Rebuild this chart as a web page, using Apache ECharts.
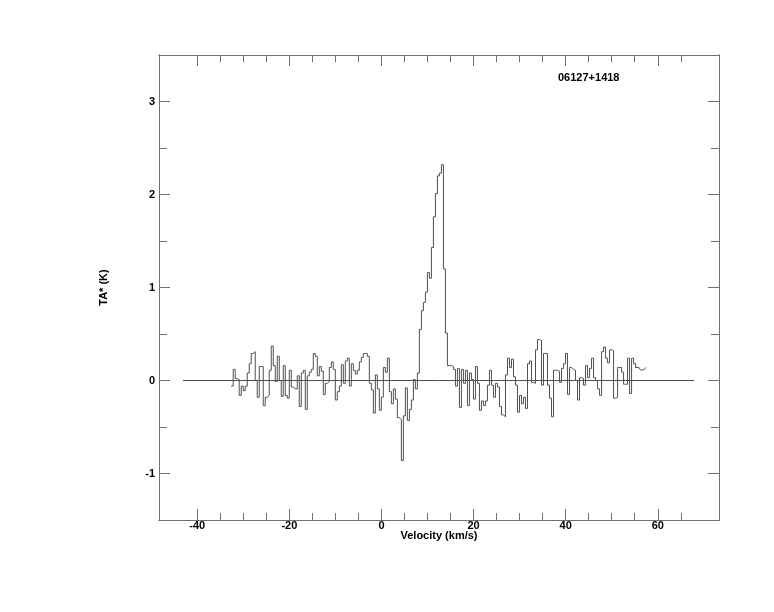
<!DOCTYPE html>
<html>
<head>
<meta charset="utf-8">
<script src="https://cdn.jsdelivr.net/npm/echarts@6/dist/echarts.min.js"></script>
<style>html,body{margin:0;padding:0;background:#fff}#c{width:774px;height:612px}</style>
</head>
<body>
<div id="c"></div>
<script>
// ---- data ----
const TITLE = '06127+1418';
const X_NAME = 'Velocity (km/s)';
const Y_NAME = 'TA* (K)';
const X_RANGE = [-48.3, 73.3];
const Y_RANGE = [-1.5, 3.5];
const X_LABEL_TICKS = [-40, -20, 0, 20, 40, 60];
const X_MINOR_TICKS = [-35, -30, -25, -15, -10, -5, 5, 10, 15, 25, 30, 35, 45, 50, 55, 65];
const Y_LABEL_TICKS = [-1, 0, 1, 2, 3];
const Y_MINOR_TICKS = [-0.5, 0.5, 1.5, 2.5];
const VELOCITY_START = -32.62;   // left edge of first channel (km/s)
const CHANNEL_WIDTH = 0.4347;    // km/s
const TA = [-0.06,
 0.12,0.02,0.01,-0.16,-0.06,-0.11,-0.06,0.08,0.18,0.29,
 0.31,0.00,-0.18,0.15,0.15,-0.27,-0.18,-0.16,0.11,0.37,
 0.16,-0.01,0.26,0.00,-0.17,0.16,-0.16,-0.19,0.11,-0.07,
 -0.09,-0.09,0.05,-0.28,0.08,0.11,-0.31,0.05,0.09,0.12,
 0.29,0.26,0.05,0.15,0.10,-0.15,-0.03,-0.01,0.14,0.20,
 0.12,-0.21,-0.12,-0.06,0.17,-0.03,0.21,0.24,-0.06,0.18,
 0.11,0.07,0.11,0.20,0.25,0.29,0.29,0.26,
 -0.03,-0.10,-0.35,0.06,-0.09,-0.32,-0.18,0.14,0.09,0.24,-0.12,-0.25,-0.09,-0.20,-0.40,-0.42,-0.86,-0.38,-0.08,-0.43,-0.31,-0.21,0.01,-0.09,0.08,
 0.55,0.75,0.84,0.95,1.16,1.10,1.43,1.76,2.01,2.20,2.23,2.32,
 1.20,0.51,0.16,0.16,0.15,0.12,-0.06,0.13,-0.29,0.12,-0.03,0.11,-0.27,0.08,0.01,-0.20,0.15,-0.03,-0.32,-0.22,-0.27,-0.22,-0.05,0.11,-0.05,-0.18,-0.03,-0.07,-0.28,-0.37,-0.39,0.06,0.24,0.14,0.23,0.04,-0.05,-0.34,-0.16,-0.25,-0.18,-0.30,
 0.18,0.21,-0.02,-0.03,0.33,0.44,0.43,-0.05,0.29,0.29,-0.05,-0.19,-0.39,0.11,0.11,0.10,-0.02,0.13,0.18,0.29,-0.15,0.14,0.12,0.11,0.00,-0.21,0.03,0.02,-0.05,0.16,0.03,
 0.13,0.24,0.03,0.00,-0.09,-0.16,0.31,0.36,0.24,0.19,0.33,0.32,-0.19,-0.18,0.14,0.14,0.09,-0.04,-0.04,0.24,-0.14,0.24,0.18,0.14];
const TAIL_V = [55.17, 55.5, 55.9, 56.3, 56.7, 57.1, 57.4];
const TAIL_T = [0.14, 0.12, 0.14, 0.11, 0.13, 0.12, 0.14];
const BASELINE_V = [-43.1, 67.9];
const BASELINE_T = [0, 0];

// ---- build ----
const LINE = '#505050', FRAME = '#707070';
const stepData = TA.map((t, i) => [VELOCITY_START + i * CHANNEL_WIDTH, t]);
stepData.push([VELOCITY_START + TA.length * CHANNEL_WIDTH, TA[TA.length - 1]]);
const tailData = TAIL_V.map((v, i) => [v, TAIL_T[i]]);
const baseData = BASELINE_V.map((v, i) => [v, BASELINE_T[i]]);

const FONT = {fontFamily: 'Liberation Sans, Arial, sans-serif', fontWeight: 'bold', fontSize: 11, color: '#000'};

function xAx(pos, ticks, len, labels, extra) {
  return Object.assign({
    type: 'value', position: pos, min: X_RANGE[0], max: X_RANGE[1],
    axisLine: {show: true, onZero: false, lineStyle: {color: FRAME, width: 1}},
    axisTick: {show: true, inside: true, length: len, customValues: ticks, lineStyle: {color: FRAME, width: 1}},
    axisLabel: labels ? Object.assign({show: true, customValues: ticks, margin: 0}, FONT) : {show: false},
    splitLine: {show: false}
  }, extra || {});
}
function yAx(pos, ticks, len, labels, extra) {
  return Object.assign({
    type: 'value', position: pos, min: Y_RANGE[0], max: Y_RANGE[1],
    axisLine: {show: true, onZero: false, lineStyle: {color: FRAME, width: 1}},
    axisTick: {show: true, inside: true, length: len, customValues: ticks, lineStyle: {color: FRAME, width: 1}},
    axisLabel: labels ? Object.assign({show: true, customValues: ticks, margin: 4}, FONT) : {show: false},
    splitLine: {show: false}
  }, extra || {});
}

const chart = echarts.init(document.getElementById('c'));
chart.setOption({
  animation: false,
  backgroundColor: '#fff',
  title: {text: TITLE, left: 553, top: 67, textStyle: FONT},
  grid: {left: 159, right: 55, top: 55, bottom: 92, show: false},
  xAxis: [
    xAx('bottom', X_LABEL_TICKS, 11, true, {name: X_NAME, nameLocation: 'middle', nameGap: 10, nameMoveOverlap: false, nameTextStyle: FONT}),
    xAx('bottom', X_MINOR_TICKS, 7, false),
    xAx('top', X_LABEL_TICKS, 11, false),
    xAx('top', X_MINOR_TICKS, 7, false)
  ],
  yAxis: [
    yAx('left', Y_LABEL_TICKS, 11, true, {name: Y_NAME, nameLocation: 'middle', nameGap: 50, nameMoveOverlap: false, nameRotate: 90, nameTextStyle: FONT}),
    yAx('left', Y_MINOR_TICKS, 8, false),
    yAx('right', Y_LABEL_TICKS, 11, false),
    yAx('right', Y_MINOR_TICKS, 8, false)
  ],
  series: [
    {type: 'line', data: baseData, xAxisIndex: 0, yAxisIndex: 0, symbol: 'none', lineStyle: {color: LINE, width: 1}, silent: true},
    {type: 'line', data: stepData, step: 'end', xAxisIndex: 0, yAxisIndex: 0, symbol: 'none', lineStyle: {color: LINE, width: 1}, silent: true},
    {type: 'line', data: tailData, xAxisIndex: 0, yAxisIndex: 0, symbol: 'none', smooth: false, lineStyle: {color: LINE, width: 1}, silent: true}
  ]
});
</script>
</body>
</html>
